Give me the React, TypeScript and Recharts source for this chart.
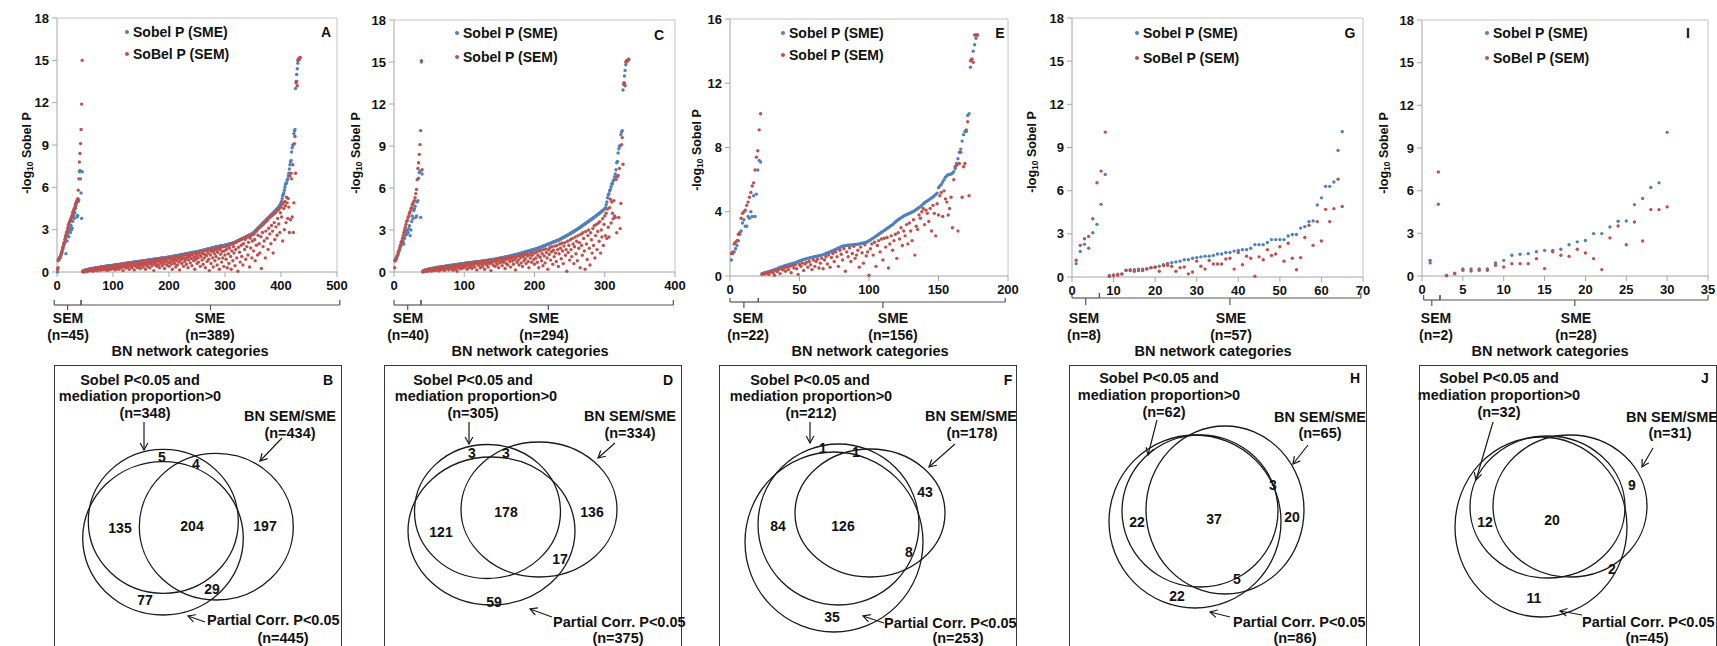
import React from 'react'
import { ScatterChart, Scatter, XAxis, YAxis, ReferenceLine, Legend } from 'recharts'

const FONT = '"Liberation Sans", Arial, Helvetica, sans-serif'
const BLUE = '#4F81BD'
const RED = '#C0504D'
const INK = '#111'
const AXIS = '#a6a6a6'

// ---------- panel A (n=434) ----------
const aSemBlue = [
  0.0, 0.8, 0.9, 1.0, 1.0, 1.1, 1.2, 1.3, 1.4, 1.6, 1.7, 1.9, 2.0, 2.1, 2.3, 1.3, 2.5, 2.2, 2.7, 2.9,
  2.5, 3.0, 3.1, 2.8, 3.3, 3.0, 3.1, 3.6, 3.9, 4.0, 3.8, 4.2, 4.5, 4.7, 4.9, 3.9, 4.0, 5.0, 5.1, 7.1,
  7.2, 6.6, 5.6, 3.8, 7.1,
]
const aSemRed = [
  0.2, 0.3, 0.9, 0.9, 1.0, 1.1, 1.2, 1.4, 1.5, 1.7, 1.8, 2.0, 2.1, 2.3, 2.5, 2.6, 2.8, 2.9, 3.1, 3.3,
  3.4, 3.5, 3.6, 3.7, 3.8, 3.9, 4.0, 4.2, 4.3, 4.4, 4.5, 4.6, 4.8, 4.9, 5.0, 5.1, 5.2, 5.8, 6.6, 7.8,
  8.4, 9.1, 10.1, 11.9, 15.0,
]
const aSmeBlue = [
  0.05, 0.08, 0.1, 0.11, 0.12, 0.13, 0.14, 0.15, 0.16, 0.17, 0.18, 0.19, 0.2, 0.21, 0.22,
  0.23, 0.24, 0.24, 0.25, 0.26, 0.26, 0.27, 0.28, 0.28, 0.29, 0.3, 0.3, 0.31, 0.32, 0.32, 0.33, 0.34, 0.34, 0.35, 0.36,
  0.36, 0.37, 0.38, 0.38, 0.39, 0.4, 0.4, 0.41, 0.42, 0.42, 0.43, 0.43, 0.44, 0.44, 0.45, 0.45, 0.46, 0.46, 0.47, 0.47,
  0.48, 0.48, 0.49, 0.5, 0.5, 0.51, 0.51, 0.52, 0.53, 0.53, 0.54, 0.54, 0.55, 0.56, 0.56, 0.57, 0.57, 0.58, 0.59, 0.59,
  0.6, 0.6, 0.61, 0.62, 0.62, 0.63, 0.63, 0.64, 0.65, 0.65, 0.66, 0.66, 0.67, 0.68, 0.68, 0.69, 0.69, 0.7, 0.71, 0.71,
  0.72, 0.72, 0.73, 0.73, 0.74, 0.74, 0.75, 0.75, 0.76, 0.76,
  0.77, 0.77, 0.78, 0.78, 0.79, 0.8, 0.8, 0.81, 0.81, 0.82, 0.83, 0.83, 0.84, 0.84, 0.85, 0.86, 0.86, 0.87, 0.87, 0.88,
  0.89, 0.89, 0.9, 0.9, 0.91, 0.92, 0.92, 0.93, 0.93, 0.94, 0.95, 0.95, 0.96, 0.96, 0.97, 0.98, 0.98, 0.99, 0.99, 1.0,
  1.0, 1.01, 1.01, 1.02, 1.02, 1.03, 1.03, 1.04, 1.04, 1.05,
  1.06, 1.07, 1.07, 1.08, 1.09, 1.1, 1.1, 1.11, 1.12, 1.13, 1.13, 1.14, 1.15, 1.16, 1.16, 1.17, 1.18, 1.19, 1.19, 1.2,
  1.21, 1.22, 1.22, 1.23, 1.24, 1.25, 1.26, 1.26, 1.27, 1.28, 1.29, 1.3, 1.3, 1.31, 1.32, 1.33, 1.34, 1.34, 1.35, 1.36,
  1.37, 1.38, 1.38, 1.39, 1.4, 1.4, 1.41, 1.42, 1.42, 1.43,
  1.44, 1.45, 1.46, 1.47, 1.48, 1.49, 1.5, 1.51, 1.52, 1.53, 1.54, 1.55, 1.56, 1.57, 1.58, 1.59, 1.6, 1.61, 1.62, 1.63,
  1.64, 1.65, 1.66, 1.67, 1.68, 1.69, 1.7, 1.71, 1.72, 1.73, 1.74, 1.75, 1.76, 1.77, 1.78, 1.79, 1.8, 1.8, 1.81, 1.82,
  1.83, 1.84, 1.84, 1.85, 1.86, 1.87, 1.87, 1.88, 1.89, 1.9,
  1.91, 1.92, 1.93, 1.94, 1.95, 1.96, 1.97, 1.98, 1.99, 2.0, 2.01, 2.03, 2.04, 2.05, 2.07, 2.08, 2.1, 2.11, 2.13, 2.15,
  2.16, 2.18, 2.2, 2.22, 2.24, 2.26, 2.28, 2.3, 2.32, 2.34, 2.36, 2.38, 2.4, 2.42, 2.44, 2.46, 2.48, 2.5, 2.52, 2.54,
  2.56, 2.58, 2.6, 2.62, 2.64, 2.66, 2.68, 2.7, 2.72, 2.75,
  2.78, 2.82, 2.86, 2.9, 2.94, 2.98, 3.02, 3.06, 3.1, 3.14, 3.18, 3.22, 3.26, 3.3, 3.34, 3.38, 3.42, 3.46, 3.5, 3.54,
  3.58, 3.62, 3.66, 3.7, 3.74, 3.78, 3.82, 3.86, 3.9, 3.94, 3.98, 4.02, 4.06, 4.1, 4.14, 4.18, 4.22, 4.26, 4.3, 4.34,
  4.38, 4.42, 4.46, 4.5, 4.55, 4.6, 4.66, 4.72, 4.8, 4.9,
  5.0, 5.2, 5.4, 5.5, 5.6, 5.8, 6.0, 6.2, 6.3, 6.3, 6.5, 6.6, 6.8, 7.0, 7.3, 7.6, 7.8, 7.9, 8.5, 8.8,
  9.0, 9.0, 9.8, 10.0, 10.1, 13.0, 13.5, 14.0, 14.4, 14.8, 15.0, 15.1, 15.1, 15.2,
]
const aSmeRed = [
  0.02, 0.05, 0.0, 0.08, 0.03, 0.1, 0.06, 0.12, 0.04, 0.1, 0.15, 0.08, 0.13, 0.18, 0.1,
  0.2, 0.12, 0.22, 0.05, 0.18, 0.25, 0.1, 0.2, 0.27, 0.15, 0.28, 0.08, 0.22, 0.3, 0.18, 0.25, 0.32, 0.12, 0.28, 0.2,
  0.34, 0.22, 0.3, 0.15, 0.35, 0.27, 0.38, 0.2, 0.32, 0.1, 0.36, 0.25, 0.4, 0.3, 0.18, 0.38, 0.28, 0.42, 0.22, 0.35,
  0.4, 0.3, 0.45, 0.15, 0.38, 0.47, 0.25, 0.42, 0.5, 0.35, 0.2, 0.48, 0.4, 0.52, 0.3, 0.45, 0.55, 0.1, 0.5, 0.38,
  0.56, 0.42, 0.28, 0.58, 0.5, 0.35, 0.6, 0.45, 0.2, 0.55, 0.62, 0.4, 0.52, 0.3, 0.64, 0.48, 0.58, 0.15, 0.5, 0.66,
  0.4, 0.6, 0.68, 0.3, 0.55, 0.7, 0.45, 0.62, 0.25, 0.72,
  0.5, 0.74, 0.6, 0.35, 0.7, 0.55, 0.76, 0.2, 0.65, 0.5, 0.78, 0.4, 0.7, 0.8, 0.58, 0.3, 0.75, 0.82, 0.6, 0.45,
  0.84, 0.7, 0.1, 0.8, 0.55, 0.86, 0.65, 0.4, 0.88, 0.75, 0.5, 0.9, 0.3, 0.8, 0.62, 0.92, 0.7, 0.45, 0.95, 0.85,
  0.6, 0.25, 0.9, 0.75, 0.98, 0.5, 0.85, 1.0, 0.65, 0.4,
  0.95, 0.7, 1.02, 0.55, 0.85, 0.2, 1.0, 0.75, 1.05, 0.6, 0.9, 0.35, 1.08, 0.8, 0.5, 1.1, 0.95, 0.7, 0.15, 1.05,
  0.85, 1.15, 0.6, 0.95, 1.18, 0.4, 1.0, 0.75, 1.2, 0.9, 0.55, 1.22, 1.05, 0.3, 0.85, 1.25, 1.1, 0.65, 1.28, 0.95,
  0.45, 1.2, 1.3, 0.8, 1.05, 0.2, 1.32, 0.9, 1.15, 0.6,
  1.35, 1.0, 0.7, 1.4, 1.2, 0.4, 1.1, 1.45, 0.85, 1.3, 0.55, 1.48, 1.0, 1.25, 0.3, 1.5, 1.15, 0.75, 1.55, 1.35,
  0.9, 0.1, 1.58, 1.2, 0.6, 1.45, 1.62, 1.0, 0.35, 1.5, 1.3, 0.8, 1.65, 1.1, 1.55, 0.5, 1.4, 1.7, 0.95, 0.2,
  1.6, 1.25, 1.75, 0.7, 1.45, 1.0, 1.78, 0.4, 1.5, 1.2,
  1.8, 0.9, 1.6, 0.3, 1.85, 1.3, 0.6, 1.7, 1.95, 1.1, 0.2, 1.5, 2.0, 0.8, 1.8, 1.35, 2.05, 0.45, 1.6, 2.1,
  1.0, 2.2, 0.05, 1.75, 2.25, 1.4, 0.7, 2.3, 1.9, 1.1, 2.35, 0.5, 2.0, 2.4, 1.6, 2.3, 0.9, 2.45, 1.8, 2.5,
  1.2, 2.1, 2.55, 0.35, 2.4, 1.7, 2.6, 1.0, 2.2, 2.65,
  1.5, 2.7, 2.3, 0.8, 2.85, 1.9, 2.95, 1.2, 2.6, 3.1, 2.0, 1.35, 3.2, 2.5, 0.25, 3.3, 2.8, 1.8, 3.4, 2.2,
  3.5, 1.0, 2.9, 3.6, 2.4, 3.7, 1.6, 3.1, 3.85, 2.7, 3.9, 2.0, 3.3, 4.0, 2.9, 1.35, 4.1, 3.5, 2.3, 4.2,
  3.2, 4.3, 2.6, 3.8, 4.4, 3.4, 4.5, 2.8, 4.2, 4.6,
  3.9, 4.8, 2.2, 4.9, 4.5, 3.0, 5.0, 4.7, 3.5, 5.3, 4.9, 3.8, 5.2, 4.6, 2.8, 6.8, 3.7, 7.0, 6.6, 3.9,
  7.6, 2.8, 4.9, 9.1, 9.6, 7.0, 13.4, 13.5, 13.2, 15.0, 15.1, 15.1, 15.1, 15.2,
]

// ---------- panel C (n=334) ----------
const cSemBlue = [
  0.8, 0.9, 1.0, 1.1, 1.2, 1.3, 1.5, 1.6, 1.8, 1.9, 2.0, 2.1, 2.2, 2.0, 2.4, 2.6, 2.9, 2.7, 3.0, 2.8,
  3.1, 3.3, 2.6, 3.0, 3.6, 4.0, 3.8, 4.4, 4.5, 4.7, 3.9, 4.0, 5.0, 5.1, 6.7, 7.1, 7.2, 3.9, 15.0, 7.0,
]
const cSemRed = [
  0.3, 0.8, 0.9, 1.0, 1.2, 1.4, 1.5, 1.7, 1.9, 2.1, 2.2, 2.4, 2.6, 2.8, 3.0, 3.2, 3.4, 3.6, 3.7, 3.9,
  4.0, 4.2, 4.3, 4.5, 4.6, 4.8, 4.9, 5.0, 5.1, 5.3, 5.6, 5.9, 6.6, 7.4, 7.8, 8.4, 9.1, 10.1, 15.1, 7.3,
]
const cSmeBlue = [
  0.05, 0.08, 0.1, 0.12, 0.14, 0.15, 0.17, 0.18, 0.2, 0.21, 0.22, 0.23, 0.24, 0.25, 0.26, 0.27, 0.28, 0.29, 0.3, 0.31,
  0.32, 0.33, 0.34, 0.34, 0.35, 0.36, 0.37, 0.37, 0.38, 0.39, 0.4, 0.4, 0.41, 0.42, 0.43, 0.43, 0.44, 0.45, 0.46, 0.46,
  0.47, 0.48, 0.49, 0.49, 0.5, 0.51, 0.52, 0.52, 0.53, 0.54, 0.55, 0.55, 0.56, 0.57, 0.58, 0.58, 0.59, 0.6, 0.6, 0.61,
  0.62, 0.62, 0.63, 0.64, 0.64, 0.65, 0.66, 0.66, 0.67, 0.68, 0.68, 0.69, 0.7, 0.7, 0.71, 0.72, 0.72, 0.73, 0.74, 0.74,
  0.75, 0.76, 0.76, 0.77, 0.78, 0.78, 0.79, 0.8, 0.8, 0.81, 0.82, 0.83, 0.83, 0.84, 0.85, 0.86, 0.86, 0.87, 0.88, 0.89,
  0.9, 0.9, 0.91, 0.92, 0.93, 0.94, 0.95, 0.96, 0.97, 0.98,
  0.99, 1.0, 1.01, 1.02, 1.03, 1.04, 1.05, 1.06, 1.07, 1.08, 1.09, 1.1, 1.11, 1.12, 1.13, 1.15, 1.16, 1.17, 1.18, 1.2,
  1.21, 1.22, 1.24, 1.25, 1.26, 1.28, 1.29, 1.3, 1.32, 1.33, 1.35, 1.36, 1.38, 1.39, 1.4, 1.42, 1.43, 1.45, 1.46, 1.48,
  1.49, 1.5, 1.52, 1.53, 1.55, 1.56, 1.58, 1.59, 1.6, 1.62,
  1.63, 1.65, 1.67, 1.69, 1.7, 1.72, 1.74, 1.76, 1.78, 1.8, 1.82, 1.84, 1.86, 1.88, 1.9, 1.92, 1.94, 1.96, 1.98, 2.0,
  2.02, 2.04, 2.06, 2.08, 2.1, 2.12, 2.14, 2.16, 2.18, 2.2, 2.22, 2.24, 2.26, 2.28, 2.3, 2.33, 2.36, 2.38, 2.41, 2.44,
  2.46, 2.49, 2.52, 2.55, 2.58, 2.6, 2.63, 2.66, 2.69, 2.72,
  2.75, 2.78, 2.81, 2.84, 2.87, 2.9, 2.93, 2.96, 3.0, 3.03, 3.06, 3.1, 3.13, 3.16, 3.2, 3.23, 3.27, 3.3, 3.34, 3.37,
  3.41, 3.44, 3.48, 3.51, 3.55, 3.58, 3.62, 3.66, 3.7, 3.73, 3.77, 3.8, 3.84, 3.88, 3.92, 3.95, 3.99, 4.03, 4.07, 4.1,
  4.14, 4.18, 4.22, 4.26, 4.3, 4.34, 4.38, 4.42, 4.47, 4.52,
  4.6, 4.8, 5.0, 5.3, 5.5, 5.6, 5.8, 5.9, 6.1, 6.3, 6.3, 6.5, 6.6, 6.8, 7.0, 7.3, 7.8, 7.9, 8.5, 8.8,
  9.0, 9.0, 9.8, 10.0, 10.1, 13.0, 13.5, 14.0, 14.4, 14.8, 15.0, 15.1, 15.1, 15.2,
]
const cSmeRed = [
  0.0, 0.05, 0.1, 0.03, 0.12, 0.08, 0.15, 0.05, 0.18, 0.1, 0.2, 0.14, 0.06, 0.22, 0.16, 0.25, 0.1, 0.2, 0.27, 0.12,
  0.28, 0.18, 0.3, 0.08, 0.25, 0.32, 0.15, 0.3, 0.35, 0.2, 0.36, 0.1, 0.3, 0.38, 0.22, 0.34, 0.4, 0.15, 0.38, 0.28,
  0.42, 0.25, 0.4, 0.12, 0.45, 0.32, 0.47, 0.2, 0.4, 0.05, 0.48, 0.3, 0.5, 0.38, 0.22, 0.52, 0.35, 0.54, 0.28, 0.45,
  0.56, 0.4, 0.6, 0.2, 0.5, 0.62, 0.32, 0.55, 0.64, 0.45, 0.25, 0.66, 0.5, 0.68, 0.35, 0.6, 0.7, 0.15, 0.65, 0.48,
  0.72, 0.55, 0.3, 0.74, 0.62, 0.4, 0.76, 0.58, 0.2, 0.7, 0.78, 0.5, 0.66, 0.35, 0.8, 0.6, 0.75, 0.1, 0.65, 0.84,
  0.5, 0.78, 0.86, 0.4, 0.7, 0.9, 0.55, 0.8, 0.3, 0.92,
  0.65, 0.95, 0.75, 0.45, 0.9, 0.7, 0.98, 0.25, 0.85, 0.6, 1.0, 0.5, 0.92, 1.05, 0.75, 0.35, 0.98, 1.08, 0.8, 0.55,
  1.1, 0.9, 0.15, 1.05, 0.7, 1.15, 0.85, 0.5, 1.18, 1.0, 0.65, 1.22, 0.4, 1.1, 0.8, 1.25, 0.95, 0.6, 1.3, 1.15,
  0.75, 0.3, 1.25, 1.0, 1.35, 0.7, 1.2, 1.4, 0.9, 0.55,
  1.35, 1.0, 1.45, 0.7, 1.2, 0.3, 1.5, 1.05, 1.55, 0.8, 1.3, 0.45, 1.6, 1.15, 0.65, 1.65, 1.4, 1.0, 0.2, 1.6,
  1.25, 1.75, 0.85, 1.45, 1.8, 0.55, 1.55, 1.1, 1.85, 1.35, 0.75, 1.9, 1.6, 0.4, 1.3, 2.0, 1.7, 0.95, 2.05, 1.5,
  0.6, 1.85, 2.1, 1.2, 1.6, 0.05, 2.2, 1.4, 1.9, 0.85,
  2.3, 1.6, 1.1, 2.4, 2.0, 0.6, 1.8, 2.5, 1.3, 2.2, 0.8, 2.6, 1.7, 2.1, 0.3, 2.7, 1.9, 1.2, 2.8, 2.4,
  1.5, 0.2, 2.9, 2.0, 0.9, 2.6, 3.0, 1.7, 0.5, 2.8, 2.3, 1.35, 3.1, 1.9, 3.3, 1.0, 2.6, 3.4, 1.6, 2.9,
  3.5, 2.2, 3.6, 1.35, 3.0, 2.5, 3.8, 1.9, 3.4, 4.0,
  2.6, 4.2, 2.4, 4.5, 3.2, 2.5, 4.6, 5.2, 3.5, 5.0, 4.2, 3.8, 5.1, 4.0, 3.9, 6.6, 2.8, 6.8, 6.9, 3.9,
  7.4, 3.1, 4.9, 9.1, 9.6, 7.7, 13.4, 13.5, 13.3, 15.0, 15.1, 15.1, 15.1, 15.2,
]

// ---------- panel E (n=178) ----------
const eSemBlue = [
  1.0, 1.4, 1.5, 1.7, 1.9, 2.2, 2.6, 2.8, 3.3, 3.5, 3.1, 3.1, 3.7, 3.6, 4.0, 3.7, 5.0, 3.7, 5.1, 6.6, 7.2, 7.1,
]
const eSemRed = [
  1.4, 1.5, 2.0, 2.1, 2.2, 2.6, 2.7, 3.6, 3.9, 4.0, 4.1, 4.4, 4.6, 4.9, 5.2, 5.6, 5.8, 6.6, 7.4, 7.8, 9.1, 10.1,
]
const eSmeBlue = [
  0.15, 0.18, 0.2, 0.22, 0.25, 0.28, 0.3, 0.33, 0.36, 0.4, 0.43, 0.46, 0.5, 0.53, 0.56, 0.6, 0.62, 0.65,
  0.68, 0.7, 0.73, 0.75, 0.78, 0.8, 0.83, 0.86, 0.9, 0.93, 0.96, 1.0, 1.03, 1.05, 1.08, 1.1, 1.12, 1.14, 1.16, 1.18,
  1.2, 1.22, 1.24, 1.26, 1.28, 1.3, 1.33, 1.36, 1.4, 1.43, 1.46, 1.5, 1.54, 1.58, 1.62, 1.66, 1.7, 1.74, 1.78, 1.82,
  1.85, 1.87, 1.89, 1.9, 1.91, 1.92, 1.93, 1.94, 1.95, 1.96, 1.97, 1.98, 2.0, 2.02, 2.04, 2.06, 2.08, 2.1, 2.14, 2.2,
  2.25, 2.3, 2.36, 2.42, 2.48, 2.54, 2.6, 2.66, 2.72, 2.78, 2.84, 2.9, 2.96, 3.02, 3.08, 3.14, 3.2, 3.28, 3.36, 3.44,
  3.5, 3.56, 3.62, 3.68, 3.74, 3.78, 3.82, 3.86, 3.9, 3.94, 3.98, 4.02, 4.08, 4.14, 4.2, 4.26, 4.32, 4.4, 4.48, 4.56,
  4.62, 4.68, 4.74, 4.8, 4.86, 4.92, 5.0, 5.08, 5.16, 5.5, 5.6, 5.7, 5.85, 6.0, 6.15, 6.25, 6.3, 6.32, 6.35, 6.4,
  6.5, 6.7, 7.0, 7.3, 7.7, 7.9, 8.4, 8.8, 9.0, 9.0, 10.0, 10.1, 13.0, 13.5, 14.0, 14.4, 14.8, 15.0,
]
const eSmeRed = [
  0.1, 0.15, 0.12, 0.2, 0.18, 0.1, 0.25, 0.3, 0.2, 0.05, 0.35, 0.28, 0.4, 0.15, 0.45, 0.38, 0.5, 0.3,
  0.55, 0.4, 0.6, 0.2, 0.65, 0.5, 0.7, 0.45, 0.1, 0.72, 0.6, 0.8, 0.35, 0.75, 0.85, 0.55, 0.9, 0.7, 0.4, 1.0,
  0.6, 0.9, 1.05, 0.5, 0.8, 1.1, 0.45, 1.0, 1.2, 0.75, 1.3, 0.55, 1.15, 1.4, 0.9, 1.5, 1.2, 0.6, 1.6, 1.35,
  1.0, 1.7, 0.3, 1.5, 1.2, 1.75, 0.9, 1.4, 1.85, 1.1, 1.3, 1.6, 0.55, 1.8, 1.45, 0.8, 1.95, 1.25, 1.5, 0.05,
  1.7, 2.0, 1.3, 2.1, 0.6, 1.9, 2.2, 1.5, 2.3, 1.0, 2.35, 1.8, 2.4, 0.5, 2.0, 2.5, 1.6, 2.2, 2.6, 1.1,
  2.7, 2.3, 3.0, 1.9, 2.8, 2.5, 3.2, 2.0, 3.3, 2.8, 2.2, 3.5, 1.3, 3.1, 2.9, 3.8, 3.6, 4.0, 4.2, 3.2,
  4.1, 3.9, 3.4, 4.2, 2.8, 4.4, 3.9, 2.5, 4.5, 3.8, 5.0, 5.2, 3.7, 5.3, 4.8, 4.6, 3.8, 4.2, 4.9, 3.0,
  6.0, 6.8, 6.9, 2.8, 7.0, 7.7, 4.9, 6.8, 7.0, 9.1, 9.6, 5.0, 13.4, 13.5, 13.3, 15.0, 15.0, 15.0,
]

// ---------- panel G (n=65) ----------
const gSemBlue = [0.93, 1.78, 2.27, 2.0, 3.08, 3.66, 5.05, 7.13]
const gSemRed = [1.16, 2.2, 2.66, 2.82, 4.05, 6.55, 7.36, 10.07]
const gSmeBlue = [
  0.1, 0.15, 0.2, 0.22, 0.48, 0.5, 0.5, 0.55, 0.55, 0.58, 0.65, 0.7, 0.75, 0.85, 0.95, 1.0, 1.05, 1.1, 1.2, 1.2,
  1.3, 1.35, 1.4, 1.45, 1.45, 1.5, 1.6, 1.6, 1.7, 1.7, 1.8, 1.85, 1.9, 1.9, 2.0, 2.25, 2.25, 2.25, 2.4, 2.6,
  2.6, 2.6, 2.6, 2.85, 2.95, 2.95, 3.4, 3.5, 3.85, 3.9, 5.0, 5.5, 6.3, 6.3, 6.6, 8.8, 10.1,
]
const gSmeRed = [
  0.05, 0.1, 0.12, 0.2, 0.45, 0.45, 0.4, 0.45, 0.45, 0.55, 0.65, 0.68, 0.4, 0.8, 0.82, 0.75, 0.4, 0.65, 0.7, 0.22,
  0.35, 1.1, 0.75, 0.55, 1.15, 0.9, 0.9, 0.9, 1.25, 1.3, 0.55, 1.7, 0.85, 1.45, 1.3, 0.05, 1.4, 1.2, 1.9, 1.5,
  1.6, 2.1, 1.1, 2.35, 1.3, 0.5, 1.35, 2.75, 3.6, 2.2, 3.85, 2.5, 4.7, 3.85, 4.75, 6.8, 4.9,
]

// ---------- panel I (n=30) ----------
const iSemBlue = [0.92, 5.05]
const iSemRed = [1.1, 7.32]
const iSmeBlue = [
  0.03, 0.2, 0.5, 0.5, 0.5, 0.5, 0.92, 1.1, 1.46, 1.53, 1.57, 1.7, 1.8, 1.8, 1.88, 2.2, 2.4, 2.5, 2.98, 2.98,
  3.45, 3.85, 3.87, 5.02, 5.45, 6.22, 6.55, 10.1,
]
const iSmeRed = [
  0.02, 0.16, 0.4, 0.35, 0.4, 0.4, 0.75, 0.63, 0.87, 0.87, 0.87, 1.22, 0.52, 1.7, 1.46, 1.38, 1.88, 1.62, 1.22, 0.45,
  2.68, 3.52, 2.2, 3.8, 2.46, 4.67, 4.67, 4.86,
]

const semCounts = [45, 40, 22, 8, 2]
const smeCounts = [389, 294, 156, 57, 28]
const redNames = ['SoBel P (SEM)', 'Sobel P (SEM)', 'Sobel P (SEM)', 'SoBel P (SEM)', 'SoBel P (SEM)']
const letters = ['A', 'C', 'E', 'G', 'I']
const xMaxes = [500, 400, 200, 70, 35]
const xTickSets = [
  [0, 100, 200, 300, 400, 500],
  [0, 100, 200, 300, 400],
  [0, 50, 100, 150, 200],
  [0, 10, 20, 30, 40, 50, 60, 70],
  [0, 5, 10, 15, 20, 25, 30, 35],
]
const yMaxes = [18, 18, 16, 18, 18]
const yTickSets = [
  [0, 3, 6, 9, 12, 15, 18],
  [0, 3, 6, 9, 12, 15, 18],
  [0, 4, 8, 12, 16],
  [0, 3, 6, 9, 12, 15, 18],
  [0, 3, 6, 9, 12, 15, 18],
]

// Venn set sizes and region counts
const sobelSizes = [348, 305, 212, 62, 32]
const bnSizes = [434, 334, 178, 65, 31]
const partialSizes = [445, 375, 253, 86, 45]
const vennLetters = ['B', 'D', 'F', 'H', 'J']
const bRegions = [5, 4, 135, 204, 197, 29, 77]
const dRegions = [3, 3, 178, 136, 121, 17, 59]
const fRegions = [1, 1, 43, 84, 126, 8, 35]
const hRegions = [3, 22, 37, 20, 22, 5]
const jRegions = [9, 12, 20, 2, 11]

type Pt = { x: number; y: number }
const toPoints = (sem: number[], sme: number[]): Pt[] =>
  [...sem, ...sme].map((y, i) => ({ x: i + 1, y }))

const blueSets = [
  toPoints(aSemBlue, aSmeBlue),
  toPoints(cSemBlue, cSmeBlue),
  toPoints(eSemBlue, eSmeBlue),
  toPoints(gSemBlue, gSmeBlue),
  toPoints(iSemBlue, iSmeBlue),
]
const redSets = [
  toPoints(aSemRed, aSmeRed),
  toPoints(cSemRed, cSmeRed),
  toPoints(eSemRed, eSmeRed),
  toPoints(gSemRed, gSmeRed),
  toPoints(iSemRed, iSmeRed),
]

// page layout (pixels) for the scatter panels
const scatterLayout = [
  { x0: 57, x1: 337, top: 18, bottom: 272, legend: [127, 32, 22], letter: [326, 32], yLab: [27, 153],
    sem: [-5, 43, 19], sme: [43, 505, 274], by: [300, 305, 310], under: [68, 210, 190] },
  { x0: 394, x1: 675, top: 20, bottom: 272, legend: [457, 33, 24], letter: [659, 35], yLab: [356, 153],
    sem: [0, 38.4, 19.5], sme: [38.4, 397.6, 219.7], by: [300, 305, 310], under: [408, 544, 530] },
  { x0: 730, x1: 1008, top: 19, bottom: 276, legend: [783, 33, 22], letter: [1000, 33], yLab: [697, 150],
    sem: [0, 20.4, 10], sme: [20.4, 198, 110], by: [298, 302, 308], under: [748, 893, 870] },
  { x0: 1072, x1: 1363, top: 18, bottom: 277, legend: [1137, 33, 25], letter: [1350, 33], yLab: [1032, 152],
    sem: [0, 6.6, 3.3], sme: [6.6, 69.5, 38], by: [293, 298, 305], under: [1084, 1231, 1213] },
  { x0: 1422, x1: 1708, top: 20, bottom: 276, legend: [1487, 33, 25], letter: [1688, 33], yLab: [1384, 153],
    sem: [0.2, 2.2, 1.2], sme: [2.2, 35, 18.7], by: [295, 300, 306], under: [1436, 1576, 1550] },
]

// page layout (pixels) for the Venn panels
const vennLayout = [
  { left: 54, right: 342,
    circles: [[163.3, 521.3, 75, 72], [216.3, 526.7, 77, 73.3], [163, 538.3, 80.3, 76.7]],
    regionPos: [[162, 457], [196, 464], [120, 528], [192, 526], [265, 526], [212, 589], [145, 600]],
    sobel: [[140, 380], [140, 396], [145, 413]], letter: [328, 380], bn: [[290, 416], [290, 433]],
    partial: [207, 620], partialN: [283, 638],
    arrows: [[144, 422, 144, 450], [282, 438, 260, 461], [205, 622, 188, 616]] },
  { left: 384, right: 682,
    circles: [[487.5, 511.5, 73, 67], [539, 509.5, 78, 67.5], [491.5, 531, 83.5, 74]],
    regionPos: [[472, 453], [506, 453], [506, 512], [592, 512], [441, 532], [560, 559], [494, 602]],
    sobel: [[473, 380], [476, 396], [473, 413]], letter: [668, 380], bn: [[630, 416], [630, 433]],
    partial: [553, 622], partialN: [618, 638],
    arrows: [[469, 422, 469, 444], [615, 443, 598, 458], [552, 617, 530, 609]] },
  { left: 719, right: 1017,
    circles: [[838.5, 524.5, 80.5, 80.5], [870, 513, 75, 64], [834, 542, 89, 90]],
    regionPos: [[823, 448], [856, 452], [925, 492], [778, 526], [843, 526], [909, 552], [832, 617]],
    sobel: [[810, 380], [811, 396], [811, 413]], letter: [1008, 380], bn: [[971, 416], [972, 433]],
    partial: [884, 623], partialN: [958, 638],
    arrows: [[810, 422, 810, 443], [955, 444, 929, 467], [884, 623, 863, 616]] },
  { left: 1069, right: 1367,
    circles: [[1200, 511, 78, 76], [1225, 510, 79, 84], [1195, 521.5, 86, 86.5]],
    regionPos: [[1273, 485], [1137, 522], [1214, 519], [1292, 517], [1177, 596], [1237, 579]],
    sobel: [[1159, 378], [1159, 395], [1164, 412]], letter: [1355, 378], bn: [[1320, 417], [1320, 433]],
    partial: [1233, 622], partialN: [1295, 638],
    arrows: [[1157, 420, 1148, 455], [1308, 445, 1293, 464], [1230, 617, 1210, 612]] },
  { left: 1419, right: 1717,
    circles: [[1547.5, 507, 77.5, 71], [1570, 506, 77, 71], [1541, 527, 86, 90]],
    regionPos: [[1632, 485], [1485, 522], [1552, 520], [1612, 569], [1534, 598]],
    sobel: [[1499, 378], [1499, 395], [1499, 412]], letter: [1705, 378], bn: [[1672, 417], [1670, 433]],
    partial: [1582, 622], partialN: [1647, 638],
    arrows: [[1493, 422, 1476, 480], [1653, 448, 1642, 467], [1582, 615, 1560, 611]] },
]
const regionSets = [bRegions, dRegions, fRegions, hRegions, jRegions]

const AXW = 46
const XH = 26
const CH = 330
const VTOP = 365
const VH = 646 - VTOP + 14

const textBase: React.CSSProperties = {
  position: 'absolute',
  whiteSpace: 'nowrap',
  fontFamily: FONT,
  fontWeight: 700,
  color: INK,
  lineHeight: 1,
}

function T({ x, y, children, size = 14, left = false }: { x: number; y: number; children: React.ReactNode; size?: number; left?: boolean }) {
  return (
    <div style={{ ...textBase, left: x, top: y, fontSize: size, transform: left ? 'translate(0,-50%)' : 'translate(-50%,-50%)' }}>
      {children}
    </div>
  )
}

const dotShape = (color: string) => (props: any) =>
  <circle cx={props.cx} cy={props.cy} r={1.7} fill={color} />

function ScatterPanel({ i }: { i: number }) {
  const L = scatterLayout[i]
  const chartLeft = L.x0 - AXW
  const right = 14
  const width = L.x1 - chartLeft + right
  const yMax = yMaxes[i]
  const xMax = xMaxes[i]
  const pxPerUnit = (L.bottom - L.top) / yMax
  const yAt = (px: number) => (L.bottom - px) / pxPerUnit
  const [t, m, d] = L.by.map(yAt)
  const segs: [number, number, number, number][] = []
  for (const [a, b, c] of [L.sem, L.sme]) {
    segs.push([a, t, a, m], [a, m, b, m], [b, m, b, t], [c, m, c, d])
  }
  const tickStyle = { fontSize: 13, fontWeight: 700, fill: INK, fontFamily: FONT }
  const [lx, ly, gap] = L.legend
  return (
    <>
      <div style={{ position: 'absolute', left: chartLeft, top: 0 }}>
        <ScatterChart width={width} height={CH} margin={{ top: L.top, right, bottom: CH - L.bottom - XH, left: 0 }}>
          <XAxis type="number" dataKey="x" domain={[0, xMax]} ticks={xTickSets[i]} interval={0} height={XH}
            tickSize={5} tickMargin={4} tick={tickStyle} axisLine={{ stroke: AXIS }} tickLine={{ stroke: AXIS }} />
          <YAxis type="number" dataKey="y" domain={[0, yMax]} ticks={yTickSets[i]} interval={0} width={AXW}
            tickSize={5} tickMargin={3} tick={tickStyle} axisLine={{ stroke: AXIS }} tickLine={{ stroke: AXIS }} />
          <ReferenceLine y={yMax} stroke="#c4c4c4" />
          <ReferenceLine x={xMax} stroke="#c4c4c4" />
          {segs.map((s, k) => (
            <ReferenceLine key={k} segment={[{ x: s[0], y: s[1] }, { x: s[2], y: s[3] }]}
              stroke="#555" strokeWidth={1.2} ifOverflow="visible" />
          ))}
          <Legend layout="vertical" align="center" verticalAlign="middle"
            wrapperStyle={{ left: lx - 2 - chartLeft, top: ly - gap / 2, width: 'auto', height: 'auto' }}
            content={(lp: any) => {
              const rows = [...(lp.payload || [])].sort(
                (p: any, q: any) => (p.color === BLUE ? 0 : 1) - (q.color === BLUE ? 0 : 1))
              return (
                <div>
                  {rows.map((e: any, k: number) => (
                    <div key={k} style={{ display: 'flex', alignItems: 'center', height: gap }}>
                      <span style={{ width: 4, height: 4, borderRadius: 2, background: e.color, marginRight: 4 }} />
                      <span style={{ fontFamily: FONT, fontWeight: 700, fontSize: 14, color: INK }}>{e.value}</span>
                    </div>
                  ))}
                </div>
              )
            }}
          />
          <Scatter name="Sobel P (SME)" data={blueSets[i]} fill={BLUE} shape={dotShape(BLUE)} isAnimationActive={false} />
          <Scatter name={redNames[i]} data={redSets[i]} fill={RED} shape={dotShape(RED)} isAnimationActive={false} />
        </ScatterChart>
      </div>
      <div style={{ ...textBase, left: L.yLab[0], top: L.yLab[1], fontSize: 12.5, transform: 'translate(-50%,-50%) rotate(-90deg)' }}>
        -log<span style={{ fontSize: 8.5, position: 'relative', top: 2 }}>10</span> Sobel P
      </div>
      <T x={L.letter[0]} y={L.letter[1]}>{letters[i]}</T>
      <T x={L.under[0]} y={318}>SEM</T>
      <T x={L.under[1]} y={318}>SME</T>
      <T x={L.under[0]} y={335}>(n={semCounts[i]})</T>
      <T x={L.under[1]} y={335}>(n={smeCounts[i]})</T>
      <T x={L.under[2]} y={351} size={14.5}>BN network categories</T>
    </>
  )
}

const ellipseShape = (props: any) => (
  <ellipse cx={props.cx} cy={props.cy} rx={props.payload.rx} ry={props.payload.ry}
    fill="none" stroke="#1a1a1a" strokeWidth={1.3} />
)
const regionShape = (props: any) => (
  <text x={props.cx} y={props.cy} textAnchor="middle" dominantBaseline="central"
    fontFamily={FONT} fontWeight={700} fontSize={14} fill={INK}>{props.payload.n}</text>
)
const arrowShape = (props: any) => {
  const { x1, y1, x2, y2 } = props
  const ang = Math.atan2(y2 - y1, x2 - x1)
  const len = 8
  const w = 0.5
  const p1 = `${x2 - len * Math.cos(ang - w)},${y2 - len * Math.sin(ang - w)}`
  const p2 = `${x2 - len * Math.cos(ang + w)},${y2 - len * Math.sin(ang + w)}`
  return (
    <g>
      <line x1={x1} y1={y1} x2={x2} y2={y2} stroke="#1a1a1a" strokeWidth={1.2} />
      <polyline points={`${p1} ${x2},${y2} ${p2}`} fill="none" stroke="#1a1a1a" strokeWidth={1.2} />
    </g>
  )
}

function VennPanel({ i }: { i: number }) {
  const V = vennLayout[i]
  const width = V.right - V.left
  const circles = V.circles.map(([x, y, rx, ry]) => ({ x, y, rx, ry }))
  const regions = regionSets[i].map((n, k) => ({ x: V.regionPos[k][0], y: V.regionPos[k][1], n }))
  const fs = 14.5
  return (
    <>
      <div style={{ position: 'absolute', left: V.left, top: VTOP, width, height: VH, border: '1.3px solid #3a3a3a', boxSizing: 'border-box' }} />
      <div style={{ position: 'absolute', left: V.left, top: VTOP }}>
        <ScatterChart width={width} height={VH} margin={{ top: 0, right: 0, bottom: 0, left: 0 }}>
          <XAxis type="number" dataKey="x" domain={[V.left, V.right]} hide />
          <YAxis type="number" dataKey="y" domain={[VTOP, VTOP + VH]} reversed hide />
          <Scatter data={circles} shape={ellipseShape} isAnimationActive={false} />
          <Scatter data={regions} shape={regionShape} isAnimationActive={false} />
          {V.arrows.map((a, k) => (
            <ReferenceLine key={k} segment={[{ x: a[0], y: a[1] }, { x: a[2], y: a[3] }]}
              shape={arrowShape} ifOverflow="visible" />
          ))}
        </ScatterChart>
      </div>
      <T x={V.sobel[0][0]} y={V.sobel[0][1]} size={fs}>Sobel P&lt;0.05 and</T>
      <T x={V.sobel[1][0]} y={V.sobel[1][1]} size={fs}>mediation proportion&gt;0</T>
      <T x={V.sobel[2][0]} y={V.sobel[2][1]} size={fs}>(n={sobelSizes[i]})</T>
      <T x={V.letter[0]} y={V.letter[1]}>{vennLetters[i]}</T>
      <T x={V.bn[0][0]} y={V.bn[0][1]} size={fs}>BN SEM/SME</T>
      <T x={V.bn[1][0]} y={V.bn[1][1]} size={fs}>(n={bnSizes[i]})</T>
      <T x={V.partial[0]} y={V.partial[1]} size={fs} left>Partial Corr. P&lt;0.05</T>
      <T x={V.partialN[0]} y={V.partialN[1]} size={fs}>(n={partialSizes[i]})</T>
    </>
  )
}

export default function App() {
  return (
    <div style={{ position: 'absolute', left: 0, top: 0, width: 1717, height: 646, background: '#fff', overflow: 'hidden' }}>
      {scatterLayout.map((_, i) => <ScatterPanel key={'s' + i} i={i} />)}
      {vennLayout.map((_, i) => <VennPanel key={'v' + i} i={i} />)}
    </div>
  )
}
